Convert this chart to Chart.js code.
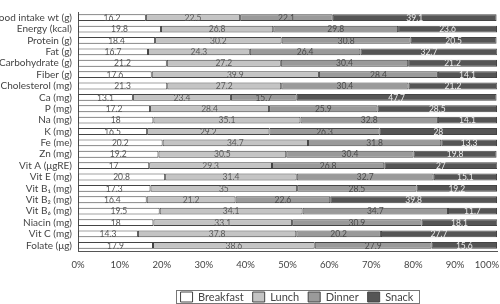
<!DOCTYPE html>
<html>
<head>
<meta charset="utf-8">
<script src="https://cdn.jsdelivr.net/npm/chart.js@4.4.0/dist/chart.umd.min.js"></script>
<style>
html,body{margin:0;padding:0;background:#fff;}
#wrap{width:500px;height:304px;}
</style>
</head>
<body>
<div id="wrap"><canvas id="c" width="500" height="304"></canvas></div>
<script>
const categories = [
  "Food intake wt (g)", "Energy (kcal)", "Protein (g)", "Fat (g)", "Carbohydrate (g)",
  "Fiber (g)", "Cholesterol (mg)", "Ca (mg)", "P (mg)", "Na (mg)", "K (mg)", "Fe (me)",
  "Zn (mg)", "Vit A (\u03BCgRE)", "Vit E (mg)", "Vit B\u2081 (mg)", "Vit B\u2082 (mg)",
  "Vit B\u2086 (mg)", "Niacin (mg)", "Vit C (mg)", "Folate (\u03BCg)"
];
const breakfast = [16.2, 19.8, 18.4, 16.7, 21.2, 17.6, 21.3, 13.1, 17.2, 18, 16.5, 20.2, 19.2, 17, 20.8, 17.3, 16.4, 19.5, 18, 14.3, 17.9];
const lunch     = [22.5, 26.8, 30.2, 24.3, 27.2, 39.9, 27.2, 23.4, 28.4, 35.1, 29.2, 34.7, 30.5, 29.3, 31.4, 35, 21.2, 34.1, 33.1, 37.8, 38.6];
const dinner    = [22.1, 29.8, 30.8, 26.4, 30.4, 28.4, 30.4, 15.7, 25.9, 32.8, 26.3, 31.8, 30.4, 26.8, 32.7, 28.5, 22.6, 34.7, 30.9, 20.2, 27.9];
const snack     = [39.1, 23.6, 20.5, 32.7, 21.2, 14.1, 21.2, 47.7, 28.5, 14.1, 28, 13.3, 19.8, 27, 15.1, 19.2, 39.8, 11.7, 18.1, 27.7, 15.6];
const seriesNames = ["Breakfast", "Lunch", "Dinner", "Snack"];
const xTicks = [0, 10, 20, 30, 40, 50, 60, 70, 80, 90, 100];

const FONT = "Lato, 'DejaVu Sans', sans-serif";
const fills = ["#ffffff", "#c4c4c4", "#9a9a9a", "#555555"];
const labelColors = ["#555555", "#5a5a5a", "#4a4a4a", "#eeeeee"];
const LEG_PAD = 9;

const valueLabels = {
  id: "valueLabels",
  afterDatasetsDraw(chart) {
    const ctx = chart.ctx;
    ctx.save();
    ctx.font = "8.5px " + FONT;
    ctx.textAlign = "center";
    ctx.textBaseline = "middle";
    chart.data.datasets.forEach((ds, di) => {
      const meta = chart.getDatasetMeta(di);
      ctx.fillStyle = labelColors[di];
      meta.data.forEach((el, i) => {
        const p = el.getProps(["x", "y", "base"], true);
        ctx.fillText(String(ds.data[i]), (p.x + p.base) / 2, p.y + 0.5);
      });
    });
    ctx.restore();
  }
};

// Right-align the last x tick label at the plot's right edge, as in the reference
const lastTickAlign = {
  id: "lastTickAlign",
  beforeDraw(chart) {
    const sx = chart.scales.x;
    if (!sx || sx._wrapped) return;
    const orig = sx.getLabelItems.bind(sx);
    sx.getLabelItems = function (ca) {
      const items = orig(ca);
      const last = items[items.length - 1];
      if (last) {
        last.options.textAlign = "right";
        last.options.translation[0] = this.right + 2;
      }
      return items;
    };
    sx._wrapped = true;
  }
};

// Legend placement: compact height, shifted to sit under the plot like the reference
const legendPlace = {
  id: "legendPlace",
  beforeLayout(chart) {
    const lg = chart.legend;
    if (lg && !lg._patched) {
      const orig = lg.fit.bind(lg);
      lg.fit = function () { orig(); this.height = 25.6; };
      lg._patched = true;
    }
  },
  afterLayout(chart) {
    const lg = chart.legend;
    if (!lg) return;
    const dy = 282.5 - lg.top;
    const dx = 297 - (lg.left + lg.right) / 2;
    lg.top += dy; lg.bottom += dy;
    lg.left += dx; lg.right += dx;
  },
  afterDraw(chart) {
    const lg = chart.legend;
    if (!lg || !lg.lineWidths) return;
    const lw = lg.lineWidths[0];
    const start = (lg.left + LEG_PAD + lg.right - lw) / 2;
    const end = start + lw - LEG_PAD;
    const ctx = chart.ctx;
    ctx.save();
    ctx.strokeStyle = "#777";
    ctx.lineWidth = 1;
    const x0 = Math.round(start - 5) + 0.5, x1 = Math.round(end + 6) + 0.5;
    ctx.strokeRect(x0, 290.5, x1 - x0, 13);
    ctx.restore();
  }
};

const datasets = [breakfast, lunch, dinner, snack].map((d, i) => ({
  label: seriesNames[i],
  data: d,
  backgroundColor: fills[i],
  borderColor: "#444",
  borderWidth: 1,
  borderSkipped: false,
  barPercentage: 0.6,
  categoryPercentage: 1.0
}));

new Chart(document.getElementById("c"), {
  type: "bar",
  data: { labels: categories, datasets },
  options: {
    indexAxis: "y",
    responsive: false,
    animation: false,
    maintainAspectRatio: false,
    layout: { padding: { top: 0, right: 3, bottom: 0, left: 0 } },
    scales: {
      x: {
        stacked: true,
        min: 0, max: 100,
        afterBuildTicks(axis) { axis.ticks = xTicks.map(v => ({ value: v })); },
        afterFit(axis) { axis.paddingRight = 0; axis.paddingLeft = 0; },
        grid: { display: false, drawTicks: false },
        border: { display: true, color: "#555", width: 1 },
        ticks: {
          callback: v => v + "%",
          color: "#444",
          font: { family: FONT, size: 9.5 },
          padding: 8,
          maxRotation: 0,
          autoSkip: false
        }
      },
      y: {
        stacked: true,
        afterFit(axis) { axis.width = 78; },
        grid: { display: false, drawTicks: false },
        border: { display: true, color: "#555", width: 1 },
        ticks: {
          color: "#444",
          font: { family: FONT, size: 10 },
          padding: 6,
          autoSkip: false
        }
      }
    },
    plugins: {
      legend: {
        position: "bottom",
        labels: {
          boxWidth: 12,
          boxHeight: 10,
          color: "#444",
          font: { family: FONT, size: 11 },
          padding: LEG_PAD
        }
      },
      tooltip: { enabled: false }
    }
  },
  plugins: [valueLabels, lastTickAlign, legendPlace]
});
</script>
</body>
</html>
